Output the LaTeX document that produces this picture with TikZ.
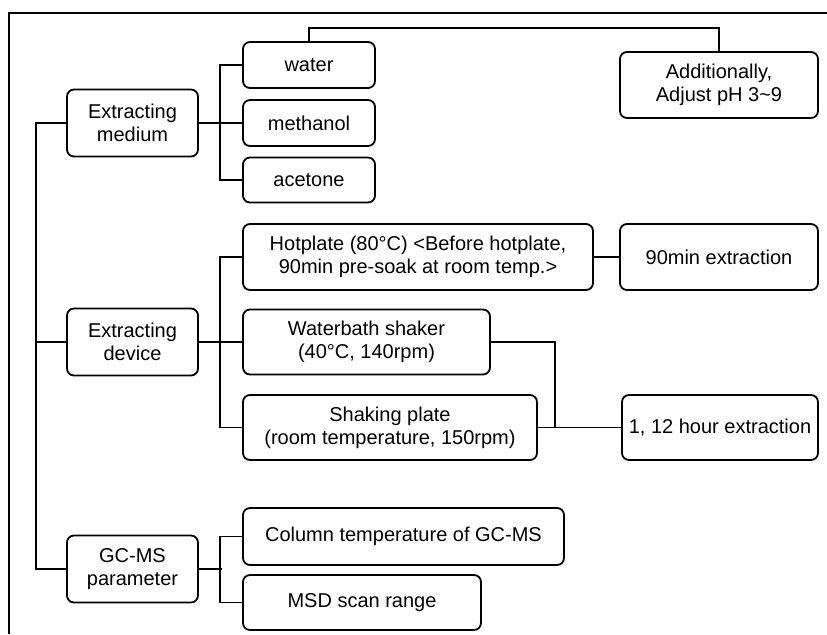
\documentclass[tikz,border=0pt]{standalone}
\usepackage{fontspec}
\setmainfont{Liberation Sans}
\usepackage{tikz}

\begin{document}
\begin{tikzpicture}[x=0.5pt,y=-0.5pt,
    box/.style={draw, rounded corners=3.5pt, line width=0.9pt, align=center, inner sep=0pt,
      font=\fontsize{10}{11.5}\selectfont},
    every path/.style={line width=0.9pt}]
    \useasboundingbox (0,0) rectangle (827,634);
    \draw[line width=1.1pt] (827,13) -- (9,13) -- (9,634);

    \node[box, minimum width=65.5pt, minimum height=33.5pt] (med) at (132.5,123) {Extracting\\medium};
    \node[box, minimum width=66pt, minimum height=23pt] (water) at (309,65) {water};
    \node[box, minimum width=66pt, minimum height=23pt] (meth) at (309,123) {methanol};
    \node[box, minimum width=66pt, minimum height=22.5pt] (acet) at (309,180) {acetone};
    \node[box, minimum width=99pt, minimum height=33pt] (addl) at (719,85) {Additionally,\\Adjust pH 3\textasciitilde 9};

    \node[box, minimum width=65.5pt, minimum height=33.5pt] (dev) at (132.5,342) {Extracting\\device};
    \node[box, minimum width=175pt, minimum height=33pt] (hot) at (418,257) {Hotplate (80°C) <Before hotplate,\\90min pre-soak at room temp.>};
    \node[box, minimum width=99pt, minimum height=33pt] (ext90) at (719,257) {90min extraction};
    \node[box, minimum width=123.5pt, minimum height=32.5pt] (wbath) at (366.5,342) {Waterbath shaker\\(40°C, 140rpm)};
    \node[box, minimum width=147pt, minimum height=32.5pt] (shake) at (390,427.5) {Shaking plate\\(room temperature, 150rpm)};
    \node[box, minimum width=98pt, minimum height=32.5pt] (ext12) at (720,427.5) {1, 12 hour extraction};
    \coordinate (jn) at (555,427.5);

    \node[box, minimum width=65.5pt, minimum height=33.5pt] (gcms) at (132.5,569) {GC-MS\\parameter};
    \node[box, minimum width=160.5pt, minimum height=28.5pt] (col) at (403.5,536.5) {Column temperature of GC-MS};
    \node[box, minimum width=119pt, minimum height=27.5pt] (msd) at (362,602.5) {MSD scan range};

    \draw (med.west) -- ++(-30,0) |- (gcms.west);
    \draw (dev.west) -- ++(-30,0);

    \draw (med.east) -- (meth.west);
    \draw (water.west) -- ++(-22,0) |- (acet.west);
    \draw (water.north) -- ++(0,-13) -| (addl.north);

    \draw (dev.east) -- (wbath.west);
    \draw (hot.west) -- ++(-22,0) |- (shake.west);
    \draw (hot.east) -- (ext90.west);
    \draw (wbath.east) -| (jn);
    \draw (shake.east) -- (ext12.west);

    \draw (gcms.east) -- ++(23,0);
    \draw (col.west) -- ++(-22,0) |- (msd.west);
\end{tikzpicture}
\end{document}
